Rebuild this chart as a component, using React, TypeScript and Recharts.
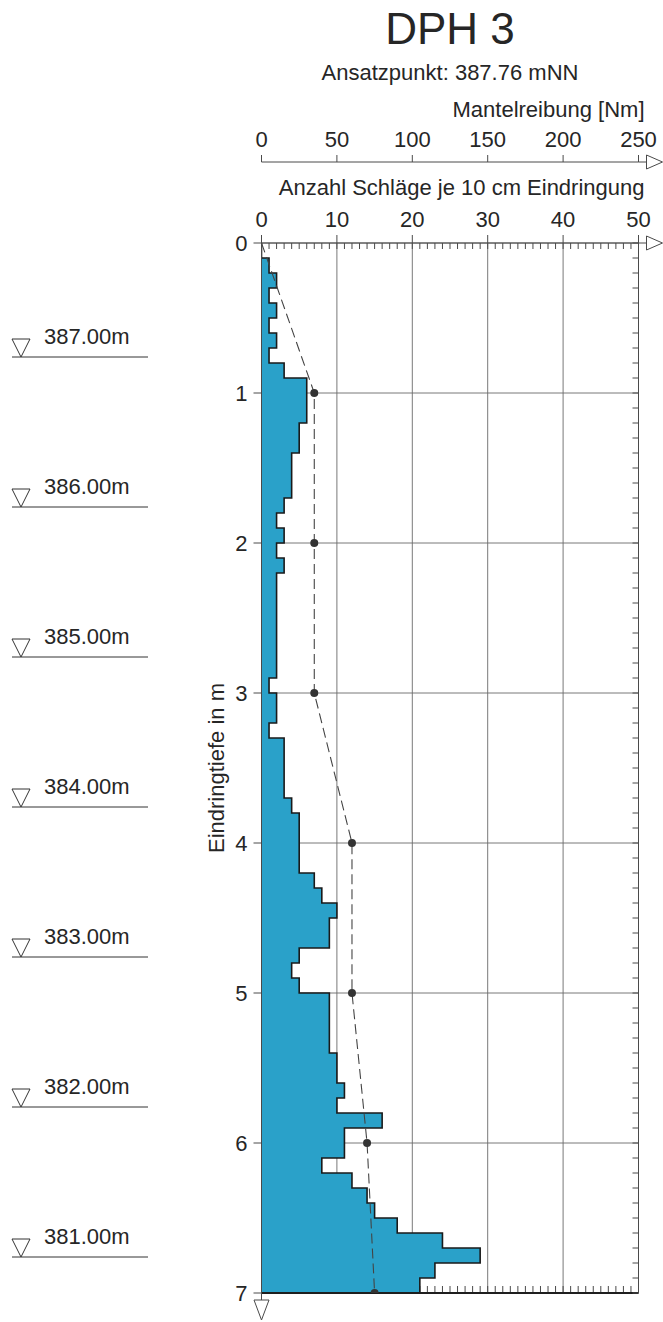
import React from 'react';
import { ComposedChart, Area, Line, XAxis, YAxis, CartesianGrid } from 'recharts';

// DPH 3 – Rammsondierung
const ORIGIN_ELEVATION = 387.76; // mNN
const INTERVAL_M = 0.1; // Schläge je 10 cm

// blows per 10 cm interval, from 0.0 m down to 7.0 m
const BLOWS = [
  0, 1, 2, 1, 2, 1, 2, 1, 3, 6,
  6, 6, 5, 5, 4, 4, 4, 3, 2, 3,
  2, 3, 2, 2, 2, 2, 2, 2, 2, 1,
  2, 2, 1, 3, 3, 3, 3, 4, 5, 5,
  5, 5, 7, 8, 10, 9, 9, 5, 4, 5,
  9, 9, 9, 9, 10, 10, 11, 10, 16, 11,
  11, 8, 12, 14, 15, 18, 24, 29, 23, 21,
];

const MANTEL_DEPTHS = [0, 1, 2, 3, 4, 5, 6, 7];
const MANTEL_VALUES = [0, 35, 35, 35, 60, 60, 70, 75];

const DEPTH_TICKS = [0, 1, 2, 3, 4, 5, 6, 7];
const BLOW_TICKS = [0, 10, 20, 30, 40, 50];
const MANTEL_TICKS = [0, 50, 100, 150, 200, 250];
const ELEVATIONS = [387, 386, 385, 384, 383, 382, 381];

const MINOR_BLOW_TICKS = Array.from({ length: 51 }, (_, i) => i);
const MINOR_DEPTH_TICKS = Array.from({ length: 71 }, (_, i) => +(i * INTERVAL_M).toFixed(1));

const profile = BLOWS.flatMap((n, i) => {
  const top = +(i * INTERVAL_M).toFixed(2);
  const bottom = +((i + 1) * INTERVAL_M).toFixed(2);
  return [
    { depth: top, elev: +(ORIGIN_ELEVATION - top).toFixed(2), blows: n },
    { depth: bottom, elev: +(ORIGIN_ELEVATION - bottom).toFixed(2), blows: n },
  ];
});

const mantelData = MANTEL_DEPTHS.map((d, i) => ({ depth: d, mantel: MANTEL_VALUES[i] }));

const INK = '#262626';
const AXIS = '#4a4a4a';
const FONT = 22;

function MantelHeader(props: any) {
  const { x, y, width, height } = props.viewBox;
  const right = x + width;
  const lineY = y + height;
  return (
    <g>
      <text x={x + width / 2} y={y - 46} textAnchor="middle" fontSize={44} fill={INK}>DPH 3</text>
      <text x={x + width / 2} y={y - 10} textAnchor="middle" fontSize={FONT} fill={INK}>
        Ansatzpunkt: {ORIGIN_ELEVATION.toFixed(2)} mNN
      </text>
      <text x={right + 6} y={y + 27} textAnchor="end" fontSize={FONT} fill={INK}>Mantelreibung [Nm]</text>
      <line x1={right} y1={lineY} x2={right + 8} y2={lineY} stroke={AXIS} />
      <polygon points={`${right + 8},${lineY - 7} ${right + 8},${lineY + 7} ${right + 24},${lineY}`} fill="#fff" stroke={AXIS} />
    </g>
  );
}

function BlowsHeader(props: any) {
  const { x, y, width, height } = props.viewBox;
  const right = x + width;
  const lineY = y + height;
  return (
    <g>
      <text x={right + 6} y={y + 33} textAnchor="end" fontSize={FONT} fill={INK}>
        Anzahl Schläge je 10 cm Eindringung
      </text>
      <line x1={right} y1={lineY} x2={right + 8} y2={lineY} stroke={AXIS} />
      <polygon points={`${right + 8},${lineY - 7} ${right + 8},${lineY + 7} ${right + 24},${lineY}`} fill="#fff" stroke={AXIS} />
    </g>
  );
}

function DepthLabel(props: any) {
  const { x, y, width, height } = props.viewBox;
  const tx = x + 54;
  const ty = y + height / 2;
  const ax = x + width;
  const by = y + height;
  return (
    <g>
      <text x={tx} y={ty} textAnchor="middle" fontSize={FONT} fill={INK} transform={`rotate(-90, ${tx}, ${ty})`}>
        Eindringtiefe in m
      </text>
      <line x1={ax} y1={by} x2={ax} y2={by + 7} stroke={AXIS} />
      <polygon points={`${ax - 7.5},${by + 7} ${ax + 7.5},${by + 7} ${ax},${by + 27}`} fill="#fff" stroke={AXIS} />
    </g>
  );
}

function ElevationTick(props: any) {
  const { x, y, payload } = props;
  const left = x - 158;
  return (
    <g>
      <line x1={left} y1={y} x2={x - 22} y2={y} stroke="#333" strokeWidth={1} />
      <polygon points={`${left},${y - 18} ${left + 18},${y - 18} ${left + 9},${y}`} fill="#fff" stroke="#333" />
      <text x={left + 32} y={y - 13} fontSize={FONT} fill={INK}>{`${Number(payload.value).toFixed(2)}m`}</text>
    </g>
  );
}

const NoLabel = () => <g />;

const mantelDot = (p: any) =>
  p.payload.depth > 0 ? (
    <circle key={`d-${p.index}`} cx={p.cx} cy={p.cy} r={4} fill="#333" />
  ) : (
    <g key={`d-${p.index}`} />
  );

export default function App() {
  return (
    <div
      style={{
        position: 'absolute',
        left: 0,
        top: 0,
        width: 663,
        height: 1322,
        background: '#fff',
        fontFamily: '"Liberation Sans", Arial, Helvetica, sans-serif',
      }}
    >
      <ComposedChart
        width={663}
        height={1322}
        data={profile}
        layout="vertical"
        margin={{ top: 90, right: 24.5, bottom: 29, left: 0 }}
      >
        <CartesianGrid xAxisId="blows" yAxisId="depth" stroke="#6a6a6a" strokeWidth={0.9} />

        <XAxis
          xAxisId="blows"
          type="number"
          orientation="top"
          domain={[0, 50]}
          ticks={BLOW_TICKS}
          interval={0}
          allowDataOverflow
          height={81}
          tickSize={8}
          tickMargin={8}
          axisLine={{ stroke: AXIS }}
          tickLine={{ stroke: AXIS }}
          tick={{ fontSize: FONT, fill: INK }}
          label={{ content: (p: any) => <BlowsHeader viewBox={p.viewBox} /> }}
        />
        <XAxis
          xAxisId="mantel"
          type="number"
          orientation="top"
          domain={[0, 250]}
          ticks={MANTEL_TICKS}
          interval={0}
          allowDataOverflow
          height={72}
          tickSize={7}
          tickMargin={8}
          axisLine={{ stroke: AXIS }}
          tickLine={{ stroke: AXIS }}
          tick={{ fontSize: FONT, fill: INK }}
          label={{ content: (p: any) => <MantelHeader viewBox={p.viewBox} /> }}
        />
        <XAxis
          xAxisId="minorTop"
          type="number"
          orientation="top"
          mirror
          domain={[0, 50]}
          ticks={MINOR_BLOW_TICKS}
          interval={0}
          allowDataOverflow
          tickSize={6}
          tick={NoLabel}
          axisLine={false}
          tickLine={{ stroke: AXIS }}
        />
        <XAxis
          xAxisId="bottomLine"
          type="number"
          orientation="bottom"
          mirror
          height={1}
          domain={[0, 50]}
          ticks={[]}
          allowDataOverflow
          tick={false}
          tickLine={false}
          axisLine={{ stroke: '#1e1e1e', strokeWidth: 1.8 }}
        />
        <XAxis
          xAxisId="minorBottom"
          type="number"
          orientation="bottom"
          mirror
          domain={[0, 50]}
          ticks={MINOR_BLOW_TICKS}
          interval={0}
          allowDataOverflow
          tickSize={6}
          tick={NoLabel}
          axisLine={false}
          tickLine={{ stroke: AXIS }}
          zIndex={-50}
        />

        <YAxis
          yAxisId="depth"
          dataKey="depth"
          type="number"
          domain={[0, 7]}
          ticks={DEPTH_TICKS}
          interval={0}
          allowDataOverflow
          width={91.5}
          tickSize={8}
          tickMargin={6}
          axisLine={{ stroke: AXIS }}
          tickLine={{ stroke: AXIS }}
          tick={{ fontSize: FONT, fill: INK }}
          label={{ content: (p: any) => <DepthLabel viewBox={p.viewBox} /> }}
        />
        <YAxis
          yAxisId="elev"
          dataKey="elev"
          type="number"
          domain={[ORIGIN_ELEVATION - 7, ORIGIN_ELEVATION]}
          reversed
          ticks={ELEVATIONS}
          interval={0}
          allowDataOverflow
          width={170}
          tickSize={0}
          tickMargin={0}
          axisLine={false}
          tickLine={false}
          tick={<ElevationTick />}
        />
        <YAxis
          yAxisId="minorRight"
          dataKey="depth"
          type="number"
          orientation="right"
          mirror
          domain={[0, 7]}
          ticks={MINOR_DEPTH_TICKS}
          interval={0}
          allowDataOverflow
          tickSize={6}
          tick={NoLabel}
          axisLine={{ stroke: AXIS }}
          tickLine={{ stroke: AXIS }}
        />

        <Area
          xAxisId="blows"
          yAxisId="depth"
          dataKey="blows"
          type="linear"
          fill="#2aa1c9"
          fillOpacity={1}
          stroke="#1a1a1a"
          strokeWidth={1.6}
          dot={false}
          activeDot={false}
          isAnimationActive={false}
        />
        <Line
          data={mantelData}
          xAxisId="mantel"
          yAxisId="depth"
          dataKey="mantel"
          type="linear"
          stroke="#444"
          strokeWidth={1.1}
          strokeDasharray="10 5"
          dot={mantelDot}
          activeDot={false}
          isAnimationActive={false}
        />
      </ComposedChart>
    </div>
  );
}
